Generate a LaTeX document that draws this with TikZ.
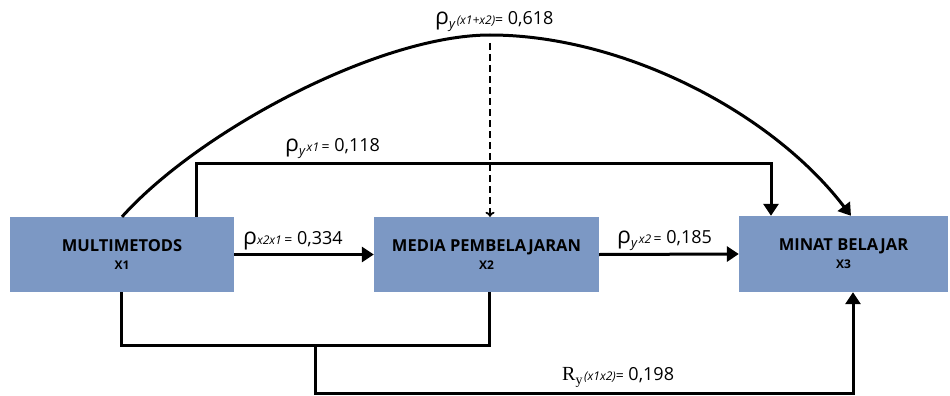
\documentclass[tikz,border=0pt]{standalone}
\usepackage{fontspec}
\setmainfont{Open Sans}
\newfontfamily\seriffam{Liberation Serif}
\usetikzlibrary{arrows.meta}
\definecolor{boxblue}{RGB}{124,152,196}

% pieces of the path coefficients
\newcommand\rhosym{{\fontsize{23}{23}\selectfont ρ}}
\newcommand\suby{\raisebox{-4pt}{\fontsize{13}{13}\selectfont\itshape y}}
\newcommand\idx[1]{{\fontsize{12}{12}\selectfont\itshape #1}}
\newcommand\val[1]{{\fontsize{14}{14}\selectfont =}{\fontsize{18}{18}\selectfont\ #1}}

\begin{document}
\begin{tikzpicture}[x=1pt,y=-1pt,
  varbox/.style={fill=boxblue, inner sep=0pt, align=center,
                 font=\fontsize{16.5}{18}\selectfont\bfseries},
  link/.style={line width=3pt, -{Triangle[length=12pt,width=15pt]}},
  wire/.style={line width=3pt},
  hint/.style={line width=1.8pt, dash pattern=on 7pt off 4pt,
               -{To[length=5pt,width=9pt]}},
  coef/.style={anchor=base west, inner sep=0pt}]
\useasboundingbox (0,0) rectangle (950,396);

% variables
\node[varbox, minimum width=224pt, minimum height=75pt] (x1) at (122,254.5)
  {MULTIMETODS\\{\fontsize{12}{18}\selectfont X1}};
\node[varbox, minimum width=225pt, minimum height=75pt] (x2) at (486.5,254.5)
  {MEDIA PEMBELAJARAN\\{\fontsize{12}{18}\selectfont X2}};
\node[varbox, minimum width=209pt, minimum height=76pt] (x3) at (843.5,254)
  {MINAT BELAJAR\\{\fontsize{12}{18}\selectfont X3}};

% routing points
\coordinate (apex) at (490,35);
\coordinate (hs) at (490,43);
\coordinate (arcx) at (851,0);
\coordinate (r1) at (196,163);
\coordinate (r2) at (771,163);
\coordinate (b1) at (121,345);
\coordinate (b2) at (489,345);
\coordinate (bj) at (315,345);
\coordinate (bl) at (315,393);
\coordinate (br) at (853,393);

% joint effect arc
\draw[link] (x1.north) .. controls (200,130) and (380,35) .. (apex)
  .. controls (620,35) and (770,110) .. (x3.north -| arcx);
\draw[hint] (hs) -- (x2.north -| hs);

% direct effect of X1 on X3
\draw[link] (x1.north -| r1) -- (r1) -- (r2) -- (x3.north -| r2);

% chain X1 -> X2 -> X3
\draw[link] (x1.east) -- (x2.west);
\draw[link] (x2.east) -- (x3.west);

% combined effect from below
\draw[wire] (x1.south -| b1) -- (b1) -- (b2) -- (x2.south -| b2);
\draw[link] (bj) -- (bl) -- (br) -- (x3.south -| br);

% coefficients
\node[coef] (ctop) at (435,25) {\rhosym\suby\,\idx{(x1+x2)}\val{0,618}};
\node[coef] (cx1) at (285,151) {\rhosym\suby\,\idx{x1}\ \val{0,118}};
\node[coef] (cx2x1) at (243,244) {\rhosym\idx{x2x1}\ \val{0,334}};
\node[coef] (cx2) at (617,243) {\rhosym\suby\,\idx{x2}\ \val{0,185}};
\node[coef] (cr) at (562,380) {{\seriffam\fontsize{20}{20}\selectfont R}\raisebox{-4pt}{\seriffam\fontsize{14}{14}\selectfont y}\,\idx{(x1x2)}\val{0,198}};
\end{tikzpicture}
\end{document}
